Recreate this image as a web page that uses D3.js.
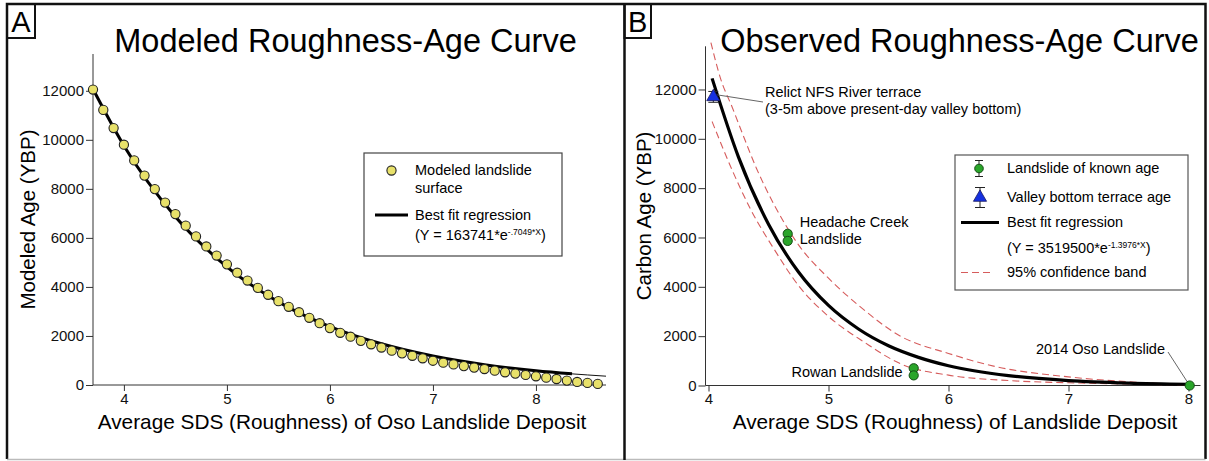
<!DOCTYPE html>
<html>
<head>
<meta charset="utf-8">
<script src="https://cdn.jsdelivr.net/npm/d3@7"></script>
<style>
  body { margin: 0; background: #fff; }
  svg { display: block; font-family: "Liberation Sans", Arial, sans-serif; }
  .axis path, .axis line { stroke: #333; }
  .axis text { font-family: "Liberation Sans", Arial, sans-serif; font-size: 15px; fill: #111; }
</style>
</head>
<body>
<svg id="chart" width="1209" height="461"></svg>
<script>
// ---- Panel A: modeled landslide surface ----
const modelSds = [3.7, 3.8, 3.9, 4.0, 4.1, 4.2, 4.3, 4.4, 4.5, 4.6,
  4.7, 4.8, 4.9, 5.0, 5.1, 5.2, 5.3, 5.4, 5.5, 5.6,
  5.7, 5.8, 5.9, 6.0, 6.1, 6.2, 6.3, 6.4, 6.5, 6.6,
  6.7, 6.8, 6.9, 7.0, 7.1, 7.2, 7.3, 7.4, 7.5, 7.6,
  7.7, 7.8, 7.9, 8.0, 8.1, 8.2, 8.3, 8.4, 8.5, 8.6];
const modelAge = [12050, 11220, 10480, 9800, 9160, 8540, 7990, 7440, 6970, 6500,
  6060, 5650, 5280, 4920, 4580, 4260, 3960, 3680, 3420, 3190,
  2970, 2740, 2520, 2320, 2130, 1970, 1800, 1660, 1530, 1400,
  1290, 1190, 1090, 990, 910, 840, 770, 710, 650, 585,
  520, 465, 410, 355, 300, 245, 180, 125, 85, 45];

// best fit line A
const fitASds = [3.7, 4.0, 4.5, 5.0, 5.5, 6.0, 6.5, 7.0, 7.5, 8.0, 8.35];
const fitAAge = [12070, 9760, 6860, 4820, 3390, 2380, 1680, 1180, 830, 580, 455];
const tailASds = [8.35, 8.5, 8.68];
const tailAAge = [455, 410, 360];

const ticksAX = [4, 5, 6, 7, 8];
const ticksAY = [0, 2000, 4000, 6000, 8000, 10000, 12000];

// ---- Panel B: observed ages ----
const slideSds = [4.66, 4.66, 5.71, 5.71, 8.01];
const slideAge = [6150, 5860, 700, 410, 0];
const slideErr = [120, 120, 120, 120, 60];
const terraceSds = [4.04];
const terraceAge = [11700];
const terraceErr = [220];

const fitBSds = [4.03, 4.25, 4.5, 4.75, 5.0, 5.25, 5.5, 5.75, 6.0, 6.5, 7.0, 7.5, 8.0];
const fitBAge = [12450, 9260, 6540, 4600, 3245, 2290, 1610, 1140, 800, 400, 200, 100, 50];

const upperSds = [4.02, 4.1, 4.2, 4.3, 4.4, 4.55, 4.75, 5.0, 5.25, 5.6, 6.0, 6.4, 7.0, 7.5, 8.0];
const upperAge = [13900, 12450, 11250, 10000, 8800, 7300, 5700, 4350, 3250, 2000, 1300, 760, 350, 150, 30];
const lowerSds = [4.03, 4.2, 4.35, 4.55, 4.75, 5.0, 5.3, 5.6, 6.0, 6.5, 7.0, 7.5, 8.0];
const lowerAge = [10700, 8700, 7150, 5500, 4050, 2800, 1750, 880, 420, 200, 110, 60, 20];

const ticksBX = [4, 5, 6, 7, 8];
const ticksBY = [0, 2000, 4000, 6000, 8000, 10000, 12000];

const svg = d3.select('#chart');
const font = '"Liberation Sans", Arial, sans-serif';
const yellow = '#e8e16a', green = '#2aa52a', blue = '#1530e0', red = '#d65c5c';

/** frame + panel boxes */
svg.append('path').attr('d', 'M7,459V4H1205.5V459')
  .attr('fill', 'none').attr('stroke', '#111').attr('stroke-width', 2.5);
svg.append('line').attr('x1', 7).attr('x2', 1205.5).attr('y1', 459.5).attr('y2', 459.5)
  .attr('stroke', '#bbb').attr('stroke-width', 1.5);
svg.append('line').attr('x1', 624.5).attr('x2', 624.5).attr('y1', 4).attr('y2', 460)
  .attr('stroke', '#111').attr('stroke-width', 2.5);

[['A', 7, 35], ['B', 624.5, 651]].forEach(([t, x0, x1]) => {
  svg.append('rect').attr('x', x0).attr('y', 4).attr('width', x1 - x0).attr('height', 34)
    .attr('fill', 'none').attr('stroke', '#111').attr('stroke-width', 2);
  svg.append('text').attr('x', (x0 + x1) / 2).attr('y', 32).attr('text-anchor', 'middle')
    .style('font-size', '29px').style('font-family', font).text(t);
});

svg.append('text').attr('x', 345.5).attr('y', 52).attr('text-anchor', 'middle')
  .style('font-size', '32.5px').style('font-family', font).text('Modeled Roughness-Age Curve');
svg.append('text').attr('x', 959.5).attr('y', 52).attr('text-anchor', 'middle')
  .style('font-size', '32.5px').style('font-family', font).text('Observed Roughness-Age Curve');

function axes(x, y, tx, ty, xTitle, yTitle, yTitleX, xTitleX) {
  const [x0, x1] = x.range();
  const [y0] = y.range();
  svg.append('g').attr('class', 'axis').attr('transform', `translate(0,${y0})`)
    .call(d3.axisBottom(x).tickValues(tx).tickSize(6).tickPadding(2).tickFormat(d3.format('d')))
    .call(g => g.select('.domain').attr('d', `M${x0},0H${x1}`));
  svg.append('g').attr('class', 'axis').attr('transform', `translate(${x0},0)`)
    .call(d3.axisLeft(y).tickValues(ty).tickSize(7).tickPadding(2).tickFormat(d3.format('d')))
    .call(g => g.select('.domain').attr('d', `M0,${y.range()[1]}V${y0}`));
  svg.append('text').attr('x', xTitleX).attr('y', 429).attr('text-anchor', 'middle')
    .style('font-size', '20.8px').style('font-family', font).text(xTitle);
  svg.append('text').attr('transform', `translate(${yTitleX},${(y0 + y.range()[1]) / 2 + 0}) rotate(-90)`)
    .attr('text-anchor', 'middle').style('font-size', '20.5px').style('font-family', font).text(yTitle);
}

/** Panel A */
const xA = d3.scaleLinear().domain([3.7, 8.68]).range([93, 606]);
const yA = d3.scaleLinear().domain([0, 13500]).range([385, 54]);
axes(xA, yA, ticksAX, ticksAY, 'Average SDS (Roughness) of Oso Landslide Deposit', 'Modeled Age (YBP)', 35, 342);

const lineA = d3.line().curve(d3.curveMonotoneX).x(d => xA(d[0])).y(d => yA(d[1]));
svg.append('path').datum(d3.zip(tailASds, tailAAge)).attr('d', lineA)
  .attr('fill', 'none').attr('stroke', '#111').attr('stroke-width', 1);
svg.append('path').datum(d3.zip(fitASds, fitAAge)).attr('d', lineA)
  .attr('fill', 'none').attr('stroke', '#000').attr('stroke-width', 3);
svg.selectAll('.model').data(d3.zip(modelSds, modelAge)).enter().append('circle')
  .attr('class', 'model')
  .attr('cx', d => xA(d[0])).attr('cy', d => yA(d[1])).attr('r', 4.6)
  .attr('fill', yellow).attr('stroke', '#222').attr('stroke-width', 1.1);

// legend A
const legA = svg.append('g');
legA.append('rect').attr('x', 364).attr('y', 153).attr('width', 198).attr('height', 103)
  .attr('fill', '#fff').attr('stroke', '#444').attr('stroke-width', 1.2);
legA.append('circle').attr('cx', 391.5).attr('cy', 170.5).attr('r', 4.6)
  .attr('fill', yellow).attr('stroke', '#222').attr('stroke-width', 1.1);
legA.append('line').attr('x1', 375).attr('x2', 408).attr('y1', 215).attr('y2', 215)
  .attr('stroke', '#000').attr('stroke-width', 3);
[['Modeled landslide', 175], ['surface', 193], ['Best fit regression', 220]].forEach(([t, yy]) => {
  legA.append('text').attr('x', 415).attr('y', yy).style('font-size', '14.5px').style('font-family', font).text(t);
});
const eqA = legA.append('text').attr('x', 415).attr('y', 240).style('font-size', '14.5px').style('font-family', font);
eqA.append('tspan').text('(Y = 163741*e');
eqA.append('tspan').attr('dy', -5).style('font-size', '8.5px').text('-.7049*X');
eqA.append('tspan').attr('dy', 5).text(')');

/** Panel B */
const xB = d3.scaleLinear().domain([3.975, 8.1]).range([705.5, 1200.5]);
const yB = d3.scaleLinear().domain([0, 13750]).range([385.5, 46.3]);
axes(xB, yB, ticksBX, ticksBY, 'Average SDS (Roughness) of Landslide Deposit', 'Carbon Age (YBP)', 651, 955);

const lineB = d3.line().curve(d3.curveMonotoneX).x(d => xB(d[0])).y(d => yB(d[1]));
[[upperSds, upperAge], [lowerSds, lowerAge]].forEach(([sx, sy]) => {
  svg.append('path').datum(d3.zip(sx, sy)).attr('d', lineB)
    .attr('fill', 'none').attr('stroke', red).attr('stroke-width', 1.1).attr('stroke-dasharray', '7,4');
});
svg.append('path').datum(d3.zip(fitBSds, fitBAge)).attr('d', lineB)
  .attr('fill', 'none').attr('stroke', '#000').attr('stroke-width', 3.2);

// leader lines
const leader = (x1, y1, x2, y2) => svg.append('line').attr('x1', x1).attr('y1', y1).attr('x2', x2).attr('y2', y2)
  .attr('stroke', '#666').attr('stroke-width', 1);
leader(xB(terraceSds[0]) + 4, yB(terraceAge[0]) - 2, 763, 102);
leader(xB(slideSds[4]) - 2, yB(slideAge[4]) - 3, 1168, 352);

function errBar(g, cx, cy, dyTop, dyBot, w) {
  g.append('line').attr('x1', cx).attr('x2', cx).attr('y1', cy - dyTop).attr('y2', cy + dyBot)
    .attr('stroke', '#222').attr('stroke-width', 1);
  [cy - dyTop, cy + dyBot].forEach(yy => g.append('line').attr('x1', cx - w).attr('x2', cx + w)
    .attr('y1', yy).attr('y2', yy).attr('stroke', '#222').attr('stroke-width', 1));
}

const tri = d3.symbol().type(d3.symbolTriangle).size(75);
terraceSds.forEach((s, i) => {
  const cx = xB(s), cy = yB(terraceAge[i]);
  errBar(svg, cx, cy, yB(0) - yB(terraceErr[i]), yB(0) - yB(terraceErr[i]), 5);
  svg.append('path').attr('d', tri).attr('transform', `translate(${cx},${cy})`)
    .attr('fill', blue).attr('stroke', '#1a1a60').attr('stroke-width', 0.8);
});
slideSds.forEach((s, i) => {
  const cx = xB(s), cy = yB(slideAge[i]);
  const e = yB(0) - yB(slideErr[i]);
  errBar(svg, cx, cy, e, e, 3.5);
  svg.append('circle').attr('cx', cx).attr('cy', cy).attr('r', 4.6)
    .attr('fill', green).attr('stroke', '#144d14').attr('stroke-width', 1);
});

const note = (x, yy, t, anchor) => svg.append('text').attr('x', x).attr('y', yy)
  .attr('text-anchor', anchor || 'start').style('font-size', '14.5px').style('font-family', font).text(t);
note(765, 97, 'Relict NFS River terrace');
note(765, 114, '(3-5m above present-day valley bottom)');
note(xB(slideSds[0]) + 12, 227, 'Headache Creek');
note(xB(slideSds[0]) + 12, 244, 'Landslide');
note(xB(slideSds[2]) - 11, 377, 'Rowan Landslide', 'end');
note(1165, 354, '2014 Oso Landslide', 'end');

// legend B
const legB = svg.append('g');
legB.append('rect').attr('x', 955).attr('y', 155).attr('width', 233).attr('height', 135)
  .attr('fill', '#fff').attr('stroke', '#555').attr('stroke-width', 1.2);
errBar(legB, 979, 168.5, 8, 8, 4);
legB.append('circle').attr('cx', 979).attr('cy', 168.5).attr('r', 4.3)
  .attr('fill', green).attr('stroke', '#144d14').attr('stroke-width', 1);
errBar(legB, 980, 197.5, 10, 10, 5);
legB.append('path').attr('d', tri).attr('transform', 'translate(980,197.5)')
  .attr('fill', blue).attr('stroke', '#1a1a60').attr('stroke-width', 0.8);
legB.append('line').attr('x1', 961).attr('x2', 999).attr('y1', 222.5).attr('y2', 222.5)
  .attr('stroke', '#000').attr('stroke-width', 3.2);
legB.append('line').attr('x1', 961).attr('x2', 994).attr('y1', 272.5).attr('y2', 272.5)
  .attr('stroke', red).attr('stroke-width', 1.2).attr('stroke-dasharray', '7,4');
[['Landslide of known age', 173], ['Valley bottom terrace age', 202], ['Best fit regression', 227], ['95% confidence band', 277]]
  .forEach(([t, yy]) => legB.append('text').attr('x', 1007).attr('y', yy)
    .style('font-size', '14.5px').style('font-family', font).text(t));
const eqB = legB.append('text').attr('x', 1007).attr('y', 253).style('font-size', '14.5px').style('font-family', font);
eqB.append('tspan').text('(Y = 3519500*e');
eqB.append('tspan').attr('dy', -5).style('font-size', '8.5px').text('-1.3976*X');
eqB.append('tspan').attr('dy', 5).text(')');
</script>
</body>
</html>
